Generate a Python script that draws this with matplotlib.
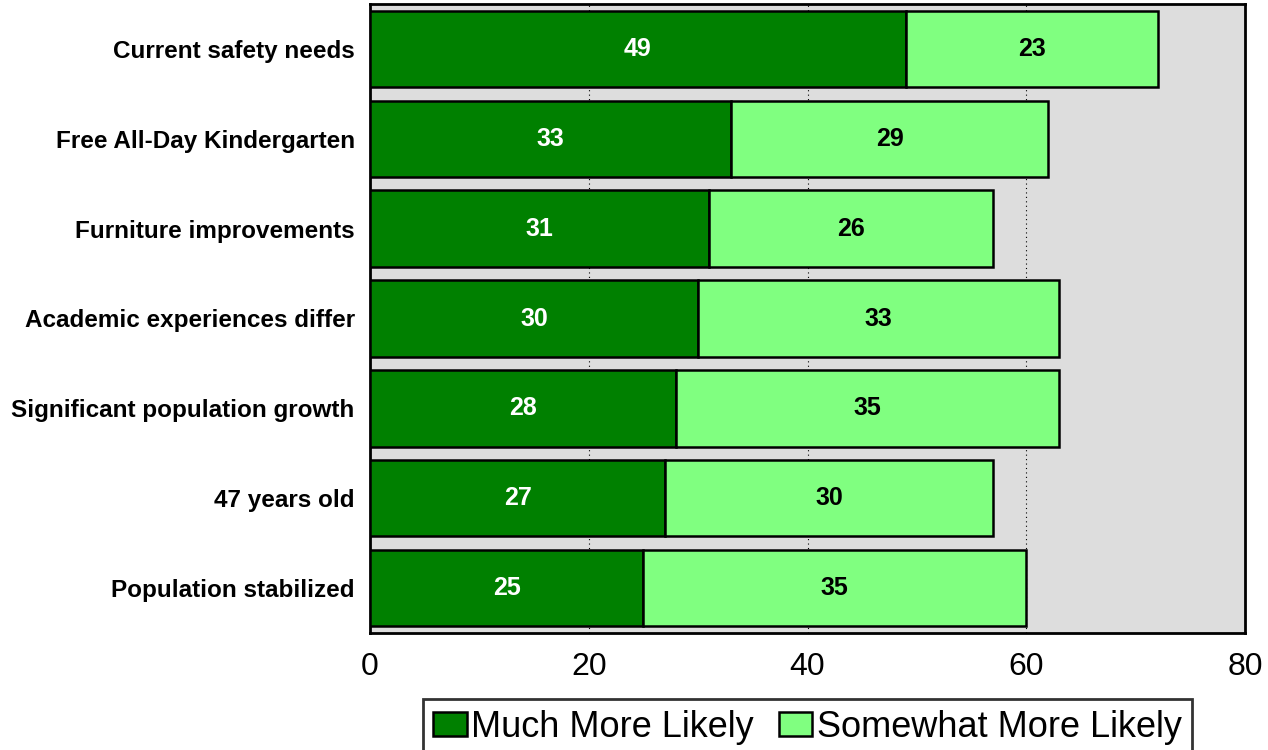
import matplotlib
matplotlib.use("Agg")
import matplotlib.pyplot as plt

categories = [
    "Current safety needs",
    "Free All-Day Kindergarten",
    "Furniture improvements",
    "Academic experiences differ",
    "Significant population growth",
    "47 years old",
    "Population stabilized",
]
much_more_likely = [49, 33, 31, 30, 28, 27, 25]
somewhat_more_likely = [23, 29, 26, 33, 35, 30, 35]
series_names = ["Much More Likely", "Somewhat More Likely"]
x_ticks = [0, 20, 40, 60, 80]

dark_green = "#008000"
light_green = "#80FF80"

plt.rcParams["font.family"] = ["Liberation Sans", "DejaVu Sans"]

fig = plt.figure(figsize=(12.68, 7.5), dpi=100)
ax = fig.add_axes([370 / 1268, 1 - 633 / 750, 875 / 1268, 629 / 750])
ax.set_facecolor("#DDDDDD")

y = list(range(len(categories)))
bar_h = 0.85
ax.barh(y, much_more_likely, height=bar_h, color=dark_green,
        edgecolor="black", linewidth=1.8, label=series_names[0], zorder=3)
ax.barh(y, somewhat_more_likely, left=much_more_likely, height=bar_h,
        color=light_green, edgecolor="black", linewidth=1.8,
        label=series_names[1], zorder=3)

for i, (a, b) in enumerate(zip(much_more_likely, somewhat_more_likely)):
    ax.text(a / 2, i, str(a), ha="center", va="center", color="white",
            fontsize=18, fontweight="bold", zorder=4)
    ax.text(a + b / 2, i, str(b), ha="center", va="center", color="black",
            fontsize=18, fontweight="bold", zorder=4)

ax.set_xlim(0, 80)
ax.set_ylim(len(categories) - 0.5, -0.5)
ax.set_xticks(x_ticks)
ax.set_xticklabels([str(t) for t in x_ticks], fontsize=23)
ax.tick_params(axis="x", length=0, pad=14)
ax.set_yticks(y)
ax.set_yticklabels(categories, fontsize=17.5, fontweight="bold")
ax.tick_params(axis="y", length=0, pad=11)

for t in x_ticks[1:-1]:
    ax.axvline(t, color="black", linestyle=(0, (1, 3)), linewidth=0.8, zorder=1)

for s in ax.spines.values():
    s.set_linewidth(2)
    s.set_color("black")

leg = ax.legend(loc="upper center", bbox_to_anchor=(0.5, -0.105), ncol=2,
                fontsize=26, frameon=True, fancybox=False, edgecolor="black",
                handlelength=0.92, handleheight=0.62, handletextpad=0.12,
                columnspacing=0.7, borderpad=0.3, borderaxespad=0)
leg.get_frame().set_linewidth(2)

fig.savefig("out.png", dpi=100)
